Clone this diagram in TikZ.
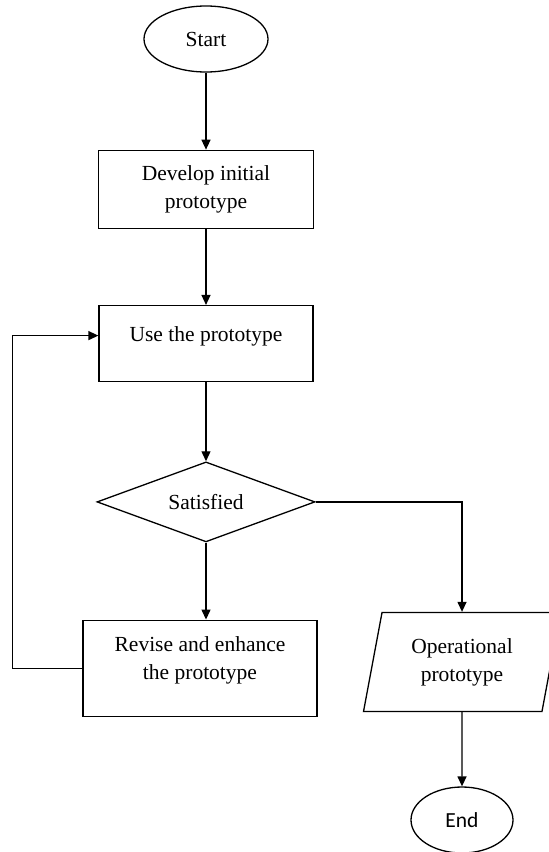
\documentclass[tikz,border=0pt]{standalone}
\usepackage{fontspec}
\setmainfont{Liberation Serif}
\newfontfamily\calfont{Carlito}
\usetikzlibrary{shapes.geometric,arrows.meta,positioning,calc}

\begin{document}
\begin{tikzpicture}[x=1pt, y=1pt, line width=1.3pt,
    every node/.style={font=\fontsize{21.5}{28}\selectfont},
    >={Triangle[length=10pt,width=9pt]}]
\useasboundingbox (0,0) rectangle (549,-852);
\node[ellipse, draw, minimum width=124pt, minimum height=66pt] (start) at (206,-39) {Start};
\node[rectangle, draw, align=center, minimum width=215pt, minimum height=78pt, below=77pt of start] (dev) {Develop initial\\prototype};
\node[rectangle, draw, minimum width=214pt, minimum height=76pt, text depth=20pt, below=76pt of dev] (use) {Use the prototype};
\node[diamond, draw, aspect=2.7, inner sep=0pt, minimum width=218pt, minimum height=80pt, below=79pt of use] (sat) {Satisfied};
\node[rectangle, draw, align=center, minimum width=234pt, minimum height=96pt, text depth=20pt, below=77pt of sat, xshift=-6pt] (rev) {Revise and enhance\\the prototype};
\node[trapezium, draw, align=center, trapezium left angle=77, trapezium right angle=103, trapezium stretches=true, minimum width=197pt, minimum height=99pt] (oper) at (462,-662) {Operational\\prototype};
\node[ellipse, draw, font=\calfont\fontsize{21.5}{28}\selectfont, minimum width=102pt, minimum height=66pt] (end) at (462,-820) {End};

\draw[->] (start) -- (dev);
\draw[->] (dev) -- (use);
\draw[->] (use) -- (sat);
\draw[->] (sat) -- (sat |- rev.north);
\draw[->] (sat.east) -| (oper);
\draw[->] (oper) -- (end);
\draw[->] (rev.west) -- ++(-70,0) |- ([yshift=8pt]use.west);
\end{tikzpicture}
\end{document}
